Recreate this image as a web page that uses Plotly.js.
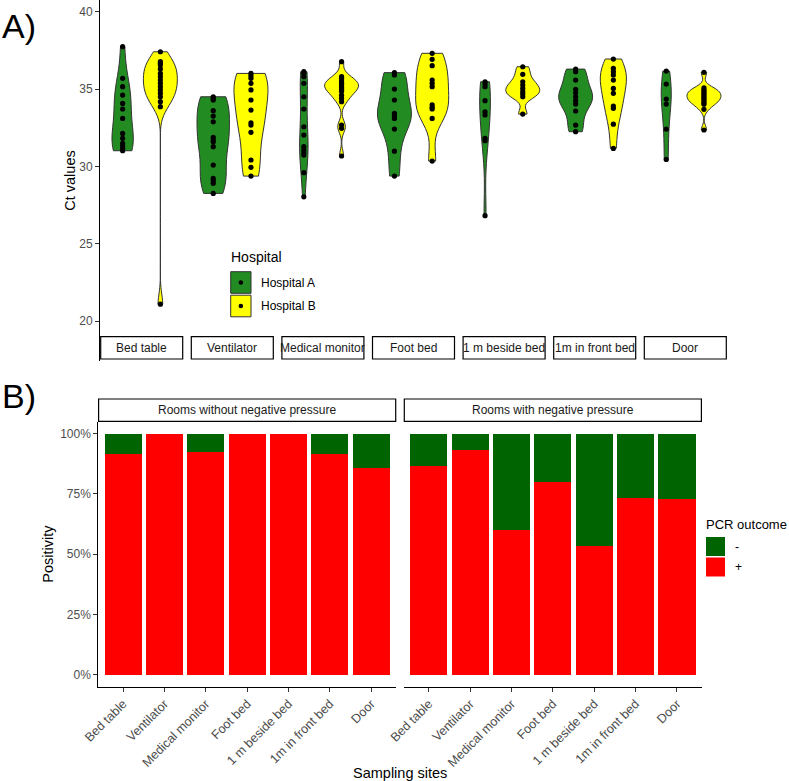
<!DOCTYPE html>
<html><head><meta charset="utf-8">
<script src="https://cdn.plot.ly/plotly-3.0.1.min.js"></script>
<style>html,body{margin:0;padding:0;background:#fff}#chart{width:789px;height:781px}</style>
</head><body><div id="chart"></div>
<script>
// ---------- DATA ----------
const sites = ['Bed table','Ventilator','Medical monitor','Foot bed','1 m beside bed','1m in front bed','Door'];
const hospitals = ['Hospital A','Hospital B'];

// Ct values (panel A)
const ctBedTableA = [37.74, 35.69, 35.15, 34.61, 34.07, 33.71, 33.10, 32.13, 31.81, 31.49, 31.31, 31.16, 31.01];
const ctBedTableB = [37.41, 36.77, 36.66, 36.55, 36.30, 36.01, 35.80, 35.58, 35.37, 35.15, 34.94, 34.72, 34.50, 34.18, 33.86, 21.09];
const ctVentilatorA = [34.50, 34.40, 34.29, 33.60, 33.25, 32.88, 31.87, 31.70, 31.59, 31.27, 30.08, 29.22, 29.07, 28.90, 28.25];
const ctVentilatorB = [36.01, 35.86, 35.69, 35.37, 34.94, 34.29, 33.64, 32.82, 32.67, 32.20, 30.41, 29.94, 29.37];
const ctMonitorA = [36.12, 36.01, 35.80, 35.37, 34.50, 33.71, 32.56, 32.02, 31.27, 31.05, 30.88, 30.73, 29.59, 28.03];
const ctMonitorB = [36.77, 35.80, 35.70, 35.58, 35.45, 35.37, 35.28, 35.19, 35.10, 35.02, 34.95, 34.85, 34.60, 34.40, 34.18, 32.67, 32.46, 30.67];
const ctFootBedA = [36.06, 35.91, 35.00, 34.29, 33.43, 33.25, 33.10, 32.41, 30.98, 29.37];
const ctFootBedB = [37.31, 36.92, 36.51, 35.58, 35.37, 35.15, 33.97, 33.82, 33.71, 33.10, 30.34];
const ctBesideA = [35.47, 35.32, 35.15, 34.25, 33.53, 33.32, 31.81, 31.66, 26.81];
const ctBesideB = [36.44, 35.95, 35.47, 35.26, 35.04, 34.83, 34.68, 34.50, 33.38];
const ctFrontA = [36.29, 36.12, 35.58, 34.98, 34.76, 34.50, 34.25, 34.03, 33.58, 32.67, 32.24];
const ctFrontB = [36.94, 36.34, 36.12, 35.91, 35.58, 35.04, 34.72, 33.90, 33.75, 32.73, 31.16];
const ctDoorA = [36.16, 35.32, 34.35, 34.03, 32.41, 30.45];
const ctDoorB = [36.08, 35.08, 34.95, 34.87, 34.76, 34.66, 34.55, 34.44, 34.35, 34.23, 34.12, 34.02, 33.69, 32.35];
const ctTicks = [20, 25, 30, 35, 40];

// PCR outcome shares (panel B)
const roomTypes = ['Rooms without negative pressure', 'Rooms with negative pressure'];
const posWithoutNeg = [0.917, 1.000, 0.923, 1.000, 1.000, 0.917, 0.857];
const negWithoutNeg = [0.083, 0.000, 0.077, 0.000, 0.000, 0.083, 0.143];
const posWithNeg = [0.867, 0.933, 0.600, 0.800, 0.533, 0.733, 0.727];
const negWithNeg = [0.133, 0.067, 0.400, 0.200, 0.467, 0.267, 0.273];
const pctTicks = [0, 0.25, 0.5, 0.75, 1];

// ---------- BUILD ----------
const ctA = [ctBedTableA, ctVentilatorA, ctMonitorA, ctFootBedA, ctBesideA, ctFrontA, ctDoorA];
const ctB = [ctBedTableB, ctVentilatorB, ctMonitorB, ctFootBedB, ctBesideB, ctFrontB, ctDoorB];

const W = 789, H = 781;
const fx = p => p / W;
const fy = p => 1 - p / H;
const FONT = 'Liberation Sans, Arial, sans-serif';
const GREEN_A = '#228B22', YELLOW_B = '#FFFF00', RED = '#FF0000', DKGREEN = '#006400';

// R's bw.nrd0 (ggplot default bandwidth)
function nrd0(v) {
  const n = v.length, s = [...v].sort((a, b) => a - b);
  const mean = v.reduce((a, b) => a + b, 0) / n;
  const sd = Math.sqrt(v.reduce((a, b) => a + (b - mean) ** 2, 0) / (n - 1));
  const q = p => { const h = (n - 1) * p, lo = Math.floor(h); return s[lo] + (h - lo) * (s[Math.min(lo + 1, n - 1)] - s[lo]); };
  let lo = Math.min(sd, (q(0.75) - q(0.25)) / 1.34);
  if (!(lo > 0)) lo = sd || 1;
  return 0.9 * lo * Math.pow(n, -0.2);
}

const traces = [];
const layout = {
  width: W, height: H,
  margin: {l: 0, r: 0, t: 0, b: 0},
  paper_bgcolor: '#fff', plot_bgcolor: 'rgba(0,0,0,0)',
  showlegend: false,
  font: {family: FONT, color: '#000'},
  violinmode: 'overlay', violingap: 0.1, violingroupgap: 0,
  barmode: 'stack', bargap: 0.1,
  shapes: [], annotations: []
};

const facetStart = 100, facetW = 83, facetStep = 90.6;
const stripTop = 336.7, stripBot = 359;

sites.forEach((site, i) => {
  const xa = i === 0 ? 'x' : 'x' + (i + 1);
  const axKey = i === 0 ? 'xaxis' : 'xaxis' + (i + 1);
  const x0 = facetStart + i * facetStep, x1 = x0 + facetW;
  layout[axKey] = {
    domain: [fx(x0), fx(x1)], anchor: 'y', type: 'category',
    categoryorder: 'array', categoryarray: hospitals,
    range: [-0.6, 1.6], visible: false, fixedrange: true
  };
  [ctA[i], ctB[i]].forEach((vals, h) => {
    traces.push({
      type: 'violin', name: hospitals[h], x0: hospitals[h], y: vals,
      xaxis: xa, yaxis: 'y',
      scalegroup: site, scalemode: 'width', spanmode: 'hard',
      bandwidth: nrd0(vals),
      fillcolor: h === 0 ? GREEN_A : YELLOW_B,
      line: {color: '#333333', width: 1},
      points: 'all', jitter: 0, pointpos: 0,
      marker: {color: '#000', size: 5.2, line: {width: 0}},
      box: {visible: false}, meanline: {visible: false},
      showlegend: false
    });
  });
  // strip (bottom)
  layout.shapes.push({type: 'rect', xref: 'paper', yref: 'paper',
    x0: fx(x0 + 0.7), x1: fx(x1 - 0.3), y0: fy(stripBot), y1: fy(stripTop),
    line: {color: '#000', width: 1.2}, fillcolor: '#fff', layer: 'below'});
  layout.annotations.push({xref: 'paper', yref: 'paper', x: fx((x0 + x1) / 2), y: fy((stripTop + stripBot) / 2),
    text: site, showarrow: false, xanchor: 'center', yanchor: 'middle',
    font: {size: 12, color: '#1A1A1A', family: FONT}});
});

const axisCommon = {
  showline: true, linecolor: '#000', linewidth: 1,
  ticks: 'outside', ticklen: 4, tickwidth: 1, tickcolor: '#333333',
  tickfont: {size: 12, color: '#4D4D4D', family: FONT},
  showgrid: false, zeroline: false, fixedrange: true
};

layout.yaxis = Object.assign({}, axisCommon, {
  domain: [fy(361), 1], range: [17.414, 40.757], anchor: 'x',
  tickvals: ctTicks, ticktext: ctTicks.map(String),
  title: {text: 'Ct values', font: {size: 14.5, color: '#000', family: FONT}, standoff: 0}
});

// ---- Panel B ----
const pTop = 421.5, pBot = 686.6;
const leftP = [98.3, 396], rightP = [404, 701.7];
layout.yaxis2 = Object.assign({}, axisCommon, {
  domain: [fy(pBot), fy(pTop)], range: [-0.05, 1.05], anchor: 'x8',
  tickvals: pctTicks, tickformat: '.0%',
  title: {text: 'Positivity', font: {size: 14.5, color: '#000', family: FONT}, standoff: 3}
});
[[leftP, 'xaxis8'], [rightP, 'xaxis9']].forEach(([p, k]) => {
  layout[k] = Object.assign({}, axisCommon, {
    domain: [fx(p[0]), fx(p[1])], anchor: 'y2', type: 'category',
    categoryorder: 'array', categoryarray: sites,
    range: [-0.6, 6.6], tickangle: -45,
    tickfont: {size: 12.6, color: '#4D4D4D', family: FONT}
  });
});

const barSets = [
  ['x8', posWithoutNeg, negWithoutNeg],
  ['x9', posWithNeg, negWithNeg]
];
barSets.forEach(([xa, pos, neg]) => {
  traces.push({type: 'bar', name: '+', x: sites, y: pos, xaxis: xa, yaxis: 'y2',
    marker: {color: RED, line: {width: 0}}, showlegend: false});
  traces.push({type: 'bar', name: '-', x: sites, y: neg, xaxis: xa, yaxis: 'y2',
    marker: {color: DKGREEN, line: {width: 0}}, showlegend: false});
});

// strips panel B (top)
[leftP, rightP].forEach((p, j) => {
  layout.shapes.push({type: 'rect', xref: 'paper', yref: 'paper',
    x0: fx(p[0] + 0.3), x1: fx(p[1] - 0.3), y0: fy(421.3), y1: fy(399),
    line: {color: '#000', width: 1.2}, fillcolor: '#fff'});
  layout.annotations.push({xref: 'paper', yref: 'paper', x: fx((p[0] + p[1]) / 2), y: fy(410.2),
    text: roomTypes[j], showarrow: false, xanchor: 'center', yanchor: 'middle',
    font: {size: 12, color: '#1A1A1A', family: FONT}});
});

// x title panel B
layout.annotations.push({xref: 'paper', yref: 'paper', x: fx(400), y: fy(773),
  text: 'Sampling sites', showarrow: false, xanchor: 'center', yanchor: 'middle',
  font: {size: 14.5, color: '#000', family: FONT}});

// panel labels
layout.annotations.push({xref: 'paper', yref: 'paper', x: fx(0), y: fy(26), text: 'A)',
  showarrow: false, xanchor: 'left', yanchor: 'middle', font: {size: 34, color: '#000', family: FONT}});
layout.annotations.push({xref: 'paper', yref: 'paper', x: fx(0), y: fy(396), text: 'B)',
  showarrow: false, xanchor: 'left', yanchor: 'middle', font: {size: 34, color: '#000', family: FONT}});

// legend A (Hospital)
layout.annotations.push({xref: 'paper', yref: 'paper', x: fx(229), y: fy(257), text: 'Hospital',
  showarrow: false, xanchor: 'left', yanchor: 'middle', font: {size: 14, color: '#000', family: FONT}});
[[271.7, 293.3, GREEN_A], [295.2, 316.8, YELLOW_B]].forEach(([a, b, c], h) => {
  layout.shapes.push({type: 'rect', xref: 'paper', yref: 'paper', x0: fx(230.7), x1: fx(251), y0: fy(b), y1: fy(a),
    line: {color: '#333333', width: 1}, fillcolor: c});
  const cx = 240.85, cy = (a + b) / 2;
  layout.shapes.push({type: 'circle', xref: 'paper', yref: 'paper', x0: fx(cx - 2.3), x1: fx(cx + 2.3), y0: fy(cy + 2.3), y1: fy(cy - 2.3),
    line: {width: 0}, fillcolor: '#000'});
  layout.annotations.push({xref: 'paper', yref: 'paper', x: fx(258.5), y: fy(cy), text: hospitals[h],
    showarrow: false, xanchor: 'left', yanchor: 'middle', font: {size: 12, color: '#000', family: FONT}});
});

// legend B (PCR outcome)
layout.annotations.push({xref: 'paper', yref: 'paper', x: fx(704), y: fy(524), text: 'PCR outcome',
  showarrow: false, xanchor: 'left', yanchor: 'middle', font: {size: 13, color: '#000', family: FONT}});
[[537, 556, DKGREEN, '-'], [557.5, 576.5, RED, '+']].forEach(([a, b, c, t]) => {
  layout.shapes.push({type: 'rect', xref: 'paper', yref: 'paper', x0: fx(706), x1: fx(725), y0: fy(b), y1: fy(a),
    line: {width: 0}, fillcolor: c});
  layout.annotations.push({xref: 'paper', yref: 'paper', x: fx(732.5), y: fy((a + b) / 2), text: t,
    showarrow: false, xanchor: 'left', yanchor: 'middle', font: {size: 12, color: '#000', family: FONT}});
});

Plotly.newPlot('chart', traces, layout, {staticPlot: true, displayModeBar: false});
</script>
</body></html>
